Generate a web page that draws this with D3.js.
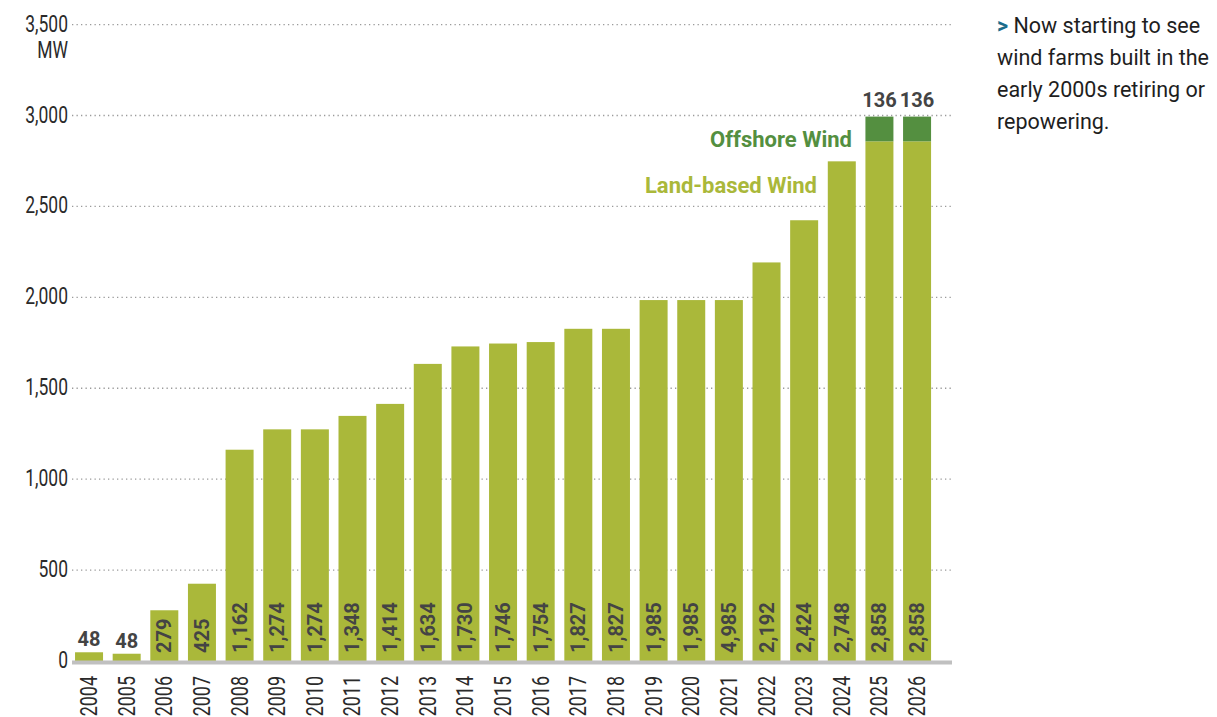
<!DOCTYPE html>
<head>
	<meta charset="utf-8">
	<title>Wind capacity</title>
	<script src="https://cdn.jsdelivr.net/npm/d3@7/dist/d3.min.js"></script>
	<style>
		body { margin: 0; background: white; }
		svg text { font-family: Roboto, 'Open Sans', sans-serif; }
		.grid line { stroke: #9a9a9a; stroke-width: 1.3px; stroke-dasharray: 1.3 3.2; }
		.lbl { font-weight: bold; font-size: 20px; fill: #444; }
		.tick-y, .tick-x { font-size: 23px; fill: #2a2a2a; }
		.note { font-size: 21.5px; fill: #1e1e1e; }
	</style>
</head>
<body>
	<script>
		var years = [2004,2005,2006,2007,2008,2009,2010,2011,2012,2013,2014,2015,
			2016,2017,2018,2019,2020,2021,2022,2023,2024,2025,2026];
		// bar heights
		var landValues = [48,40,279,425,1162,1274,1274,1348,1414,1634,1730,1746,
			1754,1827,1827,1985,1985,1985,2192,2424,2748,2858,2858];
		// printed labels (as written in the source chart)
		var landLabels = [48,48,279,425,1162,1274,1274,1348,1414,1634,1730,1746,
			1754,1827,1827,1985,1985,4985,2192,2424,2748,2858,2858];
		var offshoreValues = [0,0,0,0,0,0,0,0,0,0,0,0,0,0,0,0,0,0,0,0,0,136,136];
		var yTicks = [0,500,1000,1500,2000,2500,3000,3500];
		var noteLines = ["Now starting to see", "wind farms built in the", "early 2000s retiring or", "repowering."];

		var width = 1217;
		var height = 717;
		var landColor = "#aab83a";
		var offColor = "#548f40";
		var fmt = d3.format(",");

		var svg = d3.select("body")
			.append("svg")
			.attr("width", width)
			.attr("height", height);

		var x = d3.scaleBand()
			.domain(years)
			.range([65.4, 940.7])
			.padding(0.256);

		var y = d3.scaleLinear()
			.domain([0, 3500])
			.range([661, 24.6]);

		// gridlines
		var grid = svg.append("g").attr("class", "grid");
		grid.selectAll("line")
			.data(yTicks.filter(function(d) { return d > 0; }))
			.enter().append("line")
				.attr("x1", 72).attr("x2", 952)
				.attr("y1", function(d) { return y(d); })
				.attr("y2", function(d) { return y(d); });

		// y labels (condensed look)
		svg.selectAll(".tick-y")
			.data(yTicks)
			.enter().append("text")
				.attr("class", "tick-y")
				.attr("transform", function(d) { return "translate(68," + (y(d) + 7) + ") scale(0.76,1)"; })
				.attr("text-anchor", "end")
				.text(function(d) { return fmt(d); });
		svg.append("text")
			.attr("class", "tick-y")
			.attr("transform", "translate(68," + (y(3500) + 33) + ") scale(0.76,1)")
			.attr("text-anchor", "end")
			.text("MW");

		var data = years.map(function(yr, i) {
			return {year: yr, land: landValues[i], label: landLabels[i], off: offshoreValues[i]};
		});

		// land bars
		svg.append("g").selectAll("rect")
			.data(data)
			.enter().append("rect")
				.attr("x", function(d) { return x(d.year); })
				.attr("width", x.bandwidth())
				.attr("y", function(d) { return y(d.land); })
				.attr("height", function(d) { return y(0) - y(d.land); })
				.attr("fill", landColor);

		// offshore bars
		svg.append("g").selectAll("rect")
			.data(data.filter(function(d) { return d.off > 0; }))
			.enter().append("rect")
				.attr("x", function(d) { return x(d.year); })
				.attr("width", x.bandwidth())
				.attr("y", function(d) { return y(d.land + d.off); })
				.attr("height", function(d) { return y(d.land) - y(d.land + d.off); })
				.attr("fill", offColor);

		// baseline
		svg.append("line")
			.attr("x1", 72).attr("x2", 952)
			.attr("y1", y(0) + 1.5).attr("y2", y(0) + 1.5)
			.attr("stroke", "#c0c0c0")
			.attr("stroke-width", 4);

		// land labels
		svg.append("g").selectAll("text")
			.data(data)
			.enter().append("text")
				.attr("class", "lbl")
				.attr("transform", function(d) {
					var cx = x(d.year) + x.bandwidth() / 2;
					if (d.land < 100) return "translate(" + cx + "," + (y(d.land) - 6) + ")";
					return "translate(" + (cx + 7) + "," + (y(0) - 8) + ") rotate(-90)";
				})
				.attr("text-anchor", function(d) { return d.land < 100 ? "middle" : "start"; })
				.text(function(d) { return fmt(d.label); });

		// offshore labels
		svg.append("g").selectAll("text")
			.data(data.filter(function(d) { return d.off > 0; }))
			.enter().append("text")
				.attr("class", "lbl")
				.attr("x", function(d) { return x(d.year) + x.bandwidth() / 2; })
				.attr("y", function(d) { return y(d.land + d.off) - 10; })
				.attr("text-anchor", "middle")
				.text(function(d) { return fmt(d.off); });

		// year labels
		svg.append("g").selectAll("text")
			.data(years)
			.enter().append("text")
				.attr("class", "tick-x")
				.attr("transform", function(d) {
					return "translate(" + (x(d) + x.bandwidth() / 2 + 8) + ",676) rotate(-90) scale(0.78,1)";
				})
				.attr("text-anchor", "end")
				.text(function(d) { return d; });

		// series labels
		svg.append("text")
			.attr("x", 852).attr("y", 147)
			.attr("text-anchor", "end")
			.attr("font-weight", "bold").attr("font-size", "22px")
			.attr("fill", offColor)
			.text("Offshore Wind");
		svg.append("text")
			.attr("x", 817).attr("y", 193)
			.attr("text-anchor", "end")
			.attr("font-weight", "bold").attr("font-size", "22px")
			.attr("fill", landColor)
			.text("Land-based Wind");

		// note
		var note = svg.append("text")
			.attr("class", "note")
			.attr("x", 997).attr("y", 33);
		noteLines.forEach(function(t, i) {
			var ts = note.append("tspan").attr("x", 997).attr("dy", i === 0 ? 0 : 32);
			if (i === 0) {
				ts.append("tspan").attr("fill", "#1b6c8c").attr("font-weight", "bold").text("> ");
				ts.append("tspan").text(t);
			} else {
				ts.text(t);
			}
		});
	</script>
</body>
